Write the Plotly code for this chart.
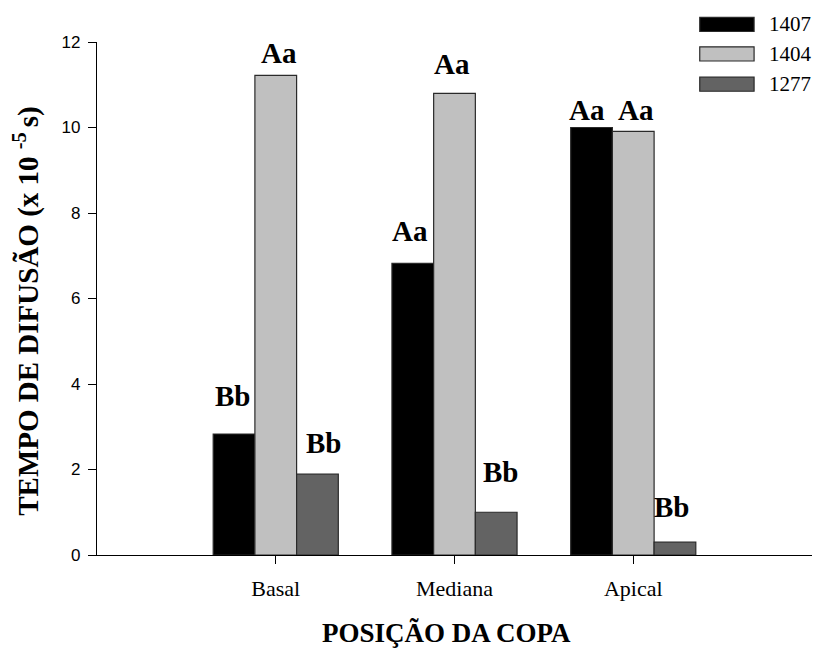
import plotly.graph_objects as go

categories = ["Basal", "Mediana", "Apical"]
series_names = ["1407", "1404", "1277"]
values_1407 = [2.83, 6.82, 10.0]
values_1404 = [11.22, 10.8, 9.91]
values_1277 = [1.89, 1.0, 0.3]
y_ticks = [0, 2, 4, 6, 8, 10, 12]

# significance letters (text) for each bar
letters = ["Bb", "Aa", "Bb", "Aa", "Aa", "Bb", "Aa", "Aa", "Bb"]
# label placement (category-index x, baseline y in data units)
label_x = [-0.241, 0.017, 0.269, 0.752, 0.988, 1.257, 1.744, 2.014, 2.213]
label_y = [3.45, 11.47, 2.33, 7.29, 11.2, 1.67, 10.12, 10.12, 0.85]

colors = ["#000000", "#c0c0c0", "#636363"]
serif = "Liberation Serif, Times New Roman, serif"
sans = "Liberation Sans, Arial, sans-serif"

fig = go.Figure()
for name, vals, col in zip(series_names, [values_1407, values_1404, values_1277], colors):
    fig.add_trace(go.Bar(
        x=categories, y=vals, name=name,
        marker=dict(color=col, line=dict(color="#2a2a2a", width=1.2)),
        showlegend=False,
    ))

annotations = []
for t, lx, ly in zip(letters, label_x, label_y):
    annotations.append(dict(
        x=lx, y=ly, xref="x", yref="y", text="<b>%s</b>" % t,
        showarrow=False, yanchor="bottom", xanchor="center", yshift=-6,
        font=dict(family=serif, size=29, color="black"),
    ))

# custom legend (wide swatches like the original)
shapes = []
leg_top = [1.048, 0.9905, 0.9315]
for i, (name, col) in enumerate(zip(series_names, colors)):
    y1 = leg_top[i]
    y0 = y1 - 0.0275
    shapes.append(dict(type="rect", xref="paper", yref="paper",
                       x0=0.843, x1=0.919, y0=y0, y1=y1,
                       fillcolor=col, line=dict(color="#2a2a2a", width=1.2)))
    annotations.append(dict(x=0.937, y=(y0 + y1) / 2, xref="paper", yref="paper",
                            text=name, showarrow=False, xanchor="left", yanchor="middle",
                            font=dict(family=serif, size=21, color="black")))

# axis titles as annotations
annotations.append(dict(
    x=-0.098, y=0.476, xref="paper", yref="paper", textangle=-90,
    text="<b>TEMPO DE DIFUSÃO (x 10 <sup>-5 </sup>s)</b>", showarrow=False,
    xanchor="center", yanchor="middle",
    font=dict(family=serif, size=29, color="black"),
))
annotations.append(dict(
    x=0.489, y=-0.152, xref="paper", yref="paper",
    text="<b>POSIÇÃO DA COPA</b>", showarrow=False,
    xanchor="center", yanchor="middle",
    font=dict(family=serif, size=27, color="black"),
))

fig.update_layout(
    width=814, height=648,
    margin=dict(l=97, r=2, t=42, b=93),
    plot_bgcolor="white", paper_bgcolor="white",
    barmode="group", bargap=0.3, bargroupgap=0,
    shapes=shapes, annotations=annotations,
    xaxis=dict(
        range=[-1, 3], showline=True, linecolor="black", linewidth=1.2,
        ticks="outside", ticklen=8, tickcolor="black", showgrid=False, zeroline=False,
        tickfont=dict(family=serif, size=22, color="black"), ticklabelstandoff=5,
    ),
    yaxis=dict(
        range=[0, 12], tickvals=y_ticks, showline=True, linecolor="black", linewidth=1.2,
        ticks="outside", ticklen=8, tickcolor="black", showgrid=False, zeroline=False,
        tickfont=dict(family=sans, size=17, color="black"), ticklabelstandoff=4,
    ),
)

fig.write_html(
    "out.html",
    config={"displayModeBar": False},
    post_script="document.body.style.margin='0';document.body.style.overflow='hidden';",
)
